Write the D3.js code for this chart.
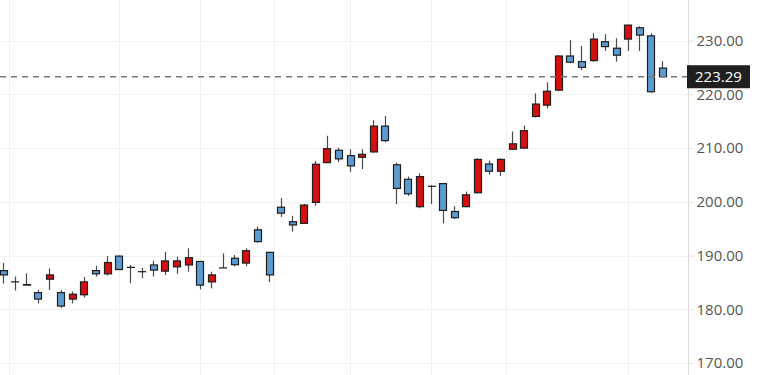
<!DOCTYPE html>
<html>
<head>
<meta charset="utf-8">
<script src="https://cdn.jsdelivr.net/npm/d3@7"></script>
<style>
  html, body { margin: 0; padding: 0; background: #fff; }
  svg { display: block; }
</style>
</head>
<body>
<svg id="chart" width="773" height="375"></svg>
<script>
// OHLC per trading day (oldest first)
var opens  = [187.2,185.1,184.6,183.1,185.6,183.1,181.9,182.7,187.2,186.6,189.9,187.8,187.0,188.25,187.1,187.9,188.25,188.9,185.1,187.7,
              189.5,188.6,194.8,190.6,199.0,196.3,196.0,199.9,207.3,209.6,208.6,208.3,209.3,214.1,206.9,204.2,199.1,202.9,203.4,198.2,
              199.1,201.7,207.05,205.7,209.8,210.0,215.9,218.0,220.8,227.15,226.1,226.3,229.8,228.6,230.3,232.4,230.9,224.9];
var highs  = [188.6,186.1,186.7,183.6,187.6,183.6,183.3,186.0,188.1,189.9,190.0,188.25,187.7,189.05,190.7,189.8,191.35,189.0,187.0,190.4,
              190.1,191.35,195.4,190.7,200.7,197.4,199.6,207.6,212.3,210.1,209.8,209.8,215.2,216.0,207.3,204.7,205.3,203.1,203.5,199.2,
              201.9,208.1,207.7,208.1,213.1,214.2,220.2,222.25,227.3,230.1,229.0,231.4,231.2,230.45,233.0,232.7,231.4,226.2];
var lows   = [184.8,183.5,184.5,181.1,183.6,180.3,181.1,182.2,186.1,186.3,187.3,184.85,185.8,186.1,186.4,186.6,187.0,183.7,183.9,187.7,
              188.0,188.0,192.4,185.1,197.2,194.45,195.9,199.3,207.2,207.4,205.6,206.1,209.15,211.1,199.6,201.1,198.8,199.6,196.0,196.8,
              199.0,201.6,205.1,204.8,209.65,209.85,215.7,217.4,220.6,225.8,224.55,226.1,228.1,226.1,228.1,228.1,220.3,223.2];
var closes = [186.4,185.1,184.5,181.9,186.4,180.6,182.8,185.1,186.6,188.7,187.4,187.8,187.0,187.3,189.0,189.0,189.6,184.5,186.4,187.7,
              188.3,190.9,192.6,186.4,197.9,195.7,199.4,207.0,209.9,208.0,206.7,208.85,214.1,211.4,202.5,201.5,204.7,202.9,198.4,197.05,
              201.3,207.9,205.7,207.9,210.8,213.25,218.2,220.6,227.15,226.0,225.05,230.3,228.9,227.3,232.9,231.05,220.5,223.29];

var yTicks = [170, 180, 190, 200, 210, 220, 230];
// vertical grid lines, as (fractional) candle positions
var xGrid = [0.5, 10, 17, 23.4, 30, 37, 43.5, 54];
var lastPrice = 223.29;

var width = 773, height = 375;
var plotRight = 688;

var svg = d3.select("#chart");

var x = d3.scaleBand()
  .domain(d3.range(opens.length))
  .range([-2.8, 672.8])
  .padding(0.4);

var step = x.step();
var xCenter = function(i) { return x.range()[0] + step * (i + 0.5); };

var y = d3.scaleLinear()
  .domain([170, 230])
  .range([363, 40.7]);

// grid
svg.append("g")
  .selectAll("line")
  .data(yTicks)
  .enter().append("line")
  .attr("x1", 0).attr("x2", plotRight)
  .attr("y1", function(d) { return Math.round(y(d)) + 0.5; })
  .attr("y2", function(d) { return Math.round(y(d)) + 0.5; })
  .attr("stroke", "#f1f1f1");

svg.append("g")
  .selectAll("line")
  .data(xGrid)
  .enter().append("line")
  .attr("x1", function(d) { return Math.round(xCenter(d)) + 0.5; })
  .attr("x2", function(d) { return Math.round(xCenter(d)) + 0.5; })
  .attr("y1", 0).attr("y2", height)
  .attr("stroke", "#f1f1f1");

// right axis
var yAxis = d3.axisRight(y)
  .tickValues(yTicks)
  .tickSize(5)
  .tickPadding(3)
  .tickFormat(d3.format(".2f"));

var yAxisG = svg.append("g")
  .attr("transform", "translate(" + (plotRight + 0.5) + ",0)")
  .call(yAxis);

yAxisG.select(".domain").remove();
yAxisG.selectAll(".tick line").attr("stroke", "#e2e2e2");
yAxisG.selectAll(".tick text")
  .style("font-family", "'Open Sans', sans-serif")
  .style("font-size", "15px")
  .attr("fill", "#555");

svg.append("line")
  .attr("x1", plotRight + 0.5).attr("x2", plotRight + 0.5)
  .attr("y1", 0).attr("y2", height)
  .attr("stroke", "#dcdcdc");

// candles
var idx = d3.range(opens.length);
var candles = svg.append("g").selectAll("g")
  .data(idx)
  .enter().append("g");

candles.append("line")
  .attr("x1", function(i) { return Math.round(xCenter(i)) + 0.5; })
  .attr("x2", function(i) { return Math.round(xCenter(i)) + 0.5; })
  .attr("y1", function(i) { return y(highs[i]); })
  .attr("y2", function(i) { return y(lows[i]); })
  .attr("stroke", "#4a4a4a")
  .attr("stroke-width", 1.2);

candles.append("rect")
  .attr("x", function(i) { return Math.round(xCenter(i) - x.bandwidth() / 2) + 0.5; })
  .attr("width", Math.round(x.bandwidth()))
  .attr("y", function(i) { return y(Math.max(opens[i], closes[i])); })
  .attr("height", function(i) { return Math.max(0.01, Math.abs(y(opens[i]) - y(closes[i]))); })
  .attr("fill", function(i) { return closes[i] > opens[i] ? "#d40f0f" : "#5b9bd1"; })
  .attr("stroke", "#1e1e1e")
  .attr("stroke-width", 1.2);

// last price line + label
var py = y(lastPrice);
svg.append("line")
  .attr("x1", 0).attr("x2", plotRight)
  .attr("y1", py).attr("y2", py)
  .attr("stroke", "#777")
  .attr("stroke-width", 1.4)
  .attr("stroke-dasharray", "6,5");

svg.append("rect")
  .attr("x", plotRight - 1)
  .attr("y", py - 11.5)
  .attr("width", 63)
  .attr("height", 23)
  .attr("fill", "#1f1f1f");

svg.append("text")
  .attr("x", plotRight + 7)
  .attr("y", py)
  .attr("dy", "0.35em")
  .style("font-family", "'Open Sans', sans-serif")
  .style("font-size", "15px")
  .attr("fill", "#fff")
  .text(lastPrice.toFixed(2));
</script>
</body>
</html>
